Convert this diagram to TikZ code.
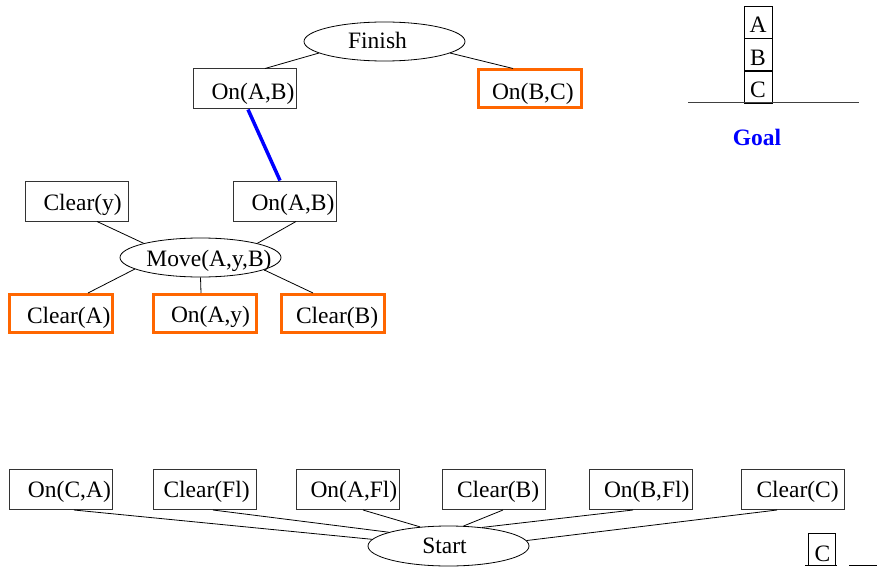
\documentclass[tikz,border=0pt]{standalone}
\usepackage{fontspec}
\setmainfont{Liberation Serif}
\usetikzlibrary{shapes.geometric}
\definecolor{orangeA}{HTML}{FF6600}
\definecolor{blueA}{HTML}{0000FF}
% box text: left pad, baseline drop, text
\newcommand{\bt}[3]{\raisebox{-#2pt}[0pt][0pt]{\makebox[103pt][l]{\hspace*{#1pt}#3}}}
% centred text: horizontal shift (x2), baseline drop, text
\newcommand{\ct}[3]{\raisebox{-#2pt}[0pt][0pt]{\makebox[0pt]{\hspace*{#1pt}#3}}}
\begin{document}
\begin{tikzpicture}[x=1pt,y=-1pt,
  every node/.style={font=\fontsize{23.5}{28}\selectfont},
  box/.style={draw=black!80, line width=1pt, minimum width=103pt, minimum height=40pt, inner sep=0pt},
  obox/.style={box, draw=orangeA, line width=3pt, minimum height=38pt},
  ell/.style={ellipse, draw, line width=0.8pt, minimum width=161pt, minimum height=39pt, inner sep=0pt},
  link/.style={line width=0.8pt},
  goodlink/.style={line width=3.5pt, blueA},
  cube/.style={draw, line width=1pt, minimum width=28pt, minimum height=32.5pt, inner sep=0pt}]
\useasboundingbox (0,0) rectangle (896,567);

% top plan
\node[ell] (finish) at (384.5,41.5) {\ct{-14}{7.5}{Finish}};
\node[box] (onab1) at (245,89) {\bt{18}{10.5}{On(A,B)}};
\node[obox] (onbc) at (530,89) {\bt{13.5}{10}{On(B,C)}};
\node[box] (onab2) at (285,201) {\bt{18}{9.5}{On(A,B)}};
\node[box] (cleary) at (77,201) {\bt{18}{9.5}{Clear(y)}};
\node[ell] (move) at (200.5,257.5) {\ct{17}{9}{Move(A,y,B)}};
\node[obox] (cleara) at (61,313.5) {\bt{17.5}{9.5}{Clear(A)}};
\node[obox] (onay) at (205,313.5) {\bt{17.5}{8.5}{On(A,y)}};
\node[obox] (clearb1) at (333,313.5) {\bt{14.5}{9.5}{Clear(B)}};

\draw[link] (finish.190.6) -- ([xshift=20pt]onab1.north);
\draw[link] (finish.350.3) -- ([xshift=-17pt]onbc.north);
\draw[goodlink] ([xshift=3pt]onab1.south) -- ([xshift=-5pt]onab2.north);
\draw[link] ([xshift=20pt]cleary.south) -- (move.166.8);
\draw[link] ([xshift=11pt]onab2.south) -- (move.14.8);
\draw[link] (move.190.1) -- ([xshift=27pt]cleara.north);
\draw[link] (move.270) -- ([xshift=-4pt]onay.north);
\draw[link] (move.349.9) -- ([xshift=-20pt]clearb1.north);

% goal stack
\node[cube] (ga) at (758,22.5) {\ct{0}{10.5}{A}};
\node[cube] (gb) at (758,55) {\ct{0}{11}{B}};
\node[cube] (gc) at (758,87) {\ct{0}{11}{C}};
\coordinate (gl) at (688,103);
\coordinate (gr) at (859,103);
\draw[line width=1pt, black!75] (gl) -- (gr);
\node[text=blueA, font=\fontsize{23.5}{28}\selectfont\bfseries] (goal) at (757,137) {Goal};

% start row
\node[box] (onca) at (60.5,489.5) {\bt{19}{8}{On(C,A)}};
\node[box] (clearfl) at (205,489.5) {\bt{10}{8}{Clear(Fl)}};
\node[box] (onafl) at (348,489.5) {\bt{14}{8}{On(A,Fl)}};
\node[box] (clearb2) at (493.5,489.5) {\bt{15}{8}{Clear(B)}};
\node[box] (onbfl) at (640.5,489.5) {\bt{15}{8}{On(B,Fl)}};
\node[box] (clearc) at (793,489.5) {\bt{15}{8}{Clear(C)}};
\node[ell, minimum height=40pt] (start) at (448.5,546) {\ct{-8}{7}{Start}};

\draw[link] ([xshift=13.5pt]onca.south) -- (start.175.3);
\draw[link] ([xshift=8pt]clearfl.south) -- (start.167.1);
\draw[link] ([xshift=15pt]onafl.south) -- (start.146.7);
\draw[link] ([xshift=9.5pt]clearb2.south) -- (start.53);
\draw[link] ([xshift=-7.5pt]onbfl.south) -- (start.29.1);
\draw[link] ([xshift=-16pt]clearc.south) -- (start.4.3);

% bottom-right fragment
\node[cube, minimum width=27pt, minimum height=32pt] (sc) at (821.5,549) {\ct{2}{12.5}{C}};
\coordinate (sl) at (805,565);
\coordinate (sr) at (837,565);
\draw[line width=1pt] (sl) -- (sr);
\coordinate (tl) at (849,565.5);
\coordinate (tr) at (877,565.5);
\draw[line width=1pt] (tl) -- (tr);
\end{tikzpicture}
\end{document}
